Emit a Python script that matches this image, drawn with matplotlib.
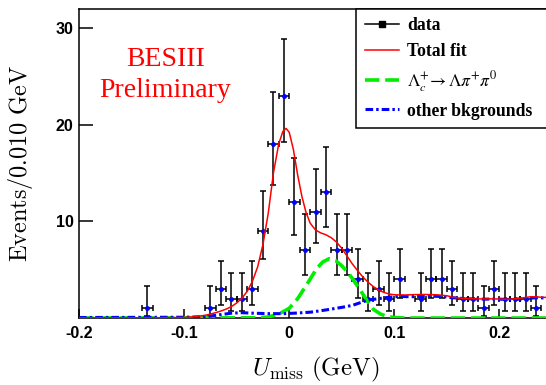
import matplotlib
matplotlib.use('Agg')
import matplotlib.pyplot as plt
from matplotlib.lines import Line2D

plt.rcParams['mathtext.fontset'] = 'cm'

# data points (bin width 0.010 GeV)
bin_centers = [-0.135, -0.075, -0.065, -0.055, -0.045, -0.035, -0.025, -0.015, -0.005, 0.005,
               0.015, 0.025, 0.035, 0.045, 0.055, 0.065, 0.075, 0.085, 0.095, 0.105,
               0.125, 0.135, 0.145, 0.155, 0.165, 0.175, 0.185, 0.195, 0.205, 0.215,
               0.225, 0.235]
counts = [1, 1, 3, 2, 2, 3, 9, 18, 23, 12, 7, 11, 13, 7, 7, 4, 2, 3, 2, 4,
          2, 4, 4, 3, 2, 2, 1, 3, 2, 2, 2, 1]
err_lo = [0.83, 0.83, 1.63, 1.29, 1.29, 1.63, 2.94, 4.20, 4.77, 3.42, 2.58, 3.27, 3.56, 2.58,
          2.58, 1.91, 1.29, 1.63, 1.29, 1.91, 1.29, 1.91, 1.91, 1.63, 1.29, 1.29, 0.83, 1.63,
          1.29, 1.29, 1.29, 0.83]
err_hi = [2.30, 2.30, 2.92, 2.64, 2.64, 2.92, 4.11, 5.32, 5.86, 4.56, 3.77, 4.42, 4.70, 3.77,
          3.77, 3.16, 2.64, 2.92, 2.64, 3.16, 2.64, 3.16, 3.16, 2.92, 2.64, 2.64, 2.30, 2.92,
          2.64, 2.64, 2.64, 2.30]

# total fit
fit_x = [-0.2, -0.15, -0.12, -0.1, -0.09, -0.08, -0.075, -0.07, -0.065, -0.06, -0.055, -0.05,
         -0.045, -0.04, -0.035, -0.03, -0.025, -0.02, -0.015, -0.01, -0.006, -0.003, 0.0,
         0.004, 0.008, 0.012, 0.016, 0.02, 0.025, 0.03, 0.035, 0.04, 0.045, 0.05, 0.055,
         0.06, 0.065, 0.07, 0.075, 0.08, 0.085, 0.09, 0.095, 0.1, 0.11, 0.12, 0.13, 0.14,
         0.15, 0.155, 0.16, 0.17, 0.18, 0.19, 0.2, 0.21, 0.22, 0.23, 0.24, 0.25]
fit_y = [0.02, 0.02, 0.03, 0.05, 0.13, 0.28, 0.4, 0.55, 0.72, 0.92, 1.18, 1.55,
         2.05, 2.75, 3.8, 5.3, 7.6, 10.8, 15.0, 18.0, 19.3, 19.6, 19.2,
         17.4, 14.8, 12.6, 10.9, 9.8, 9.1, 8.8, 8.6, 8.3, 7.85, 7.2, 6.4,
         5.6, 4.9, 4.25, 3.7, 3.25, 2.9, 2.65, 2.48, 2.4, 2.38, 2.42, 2.43, 2.4,
         2.3, 2.16, 2.08, 2.0, 1.97, 1.98, 1.96, 1.94, 2.05, 2.2, 2.15, 2.1]

# Lambda_c -> Lambda pi+ pi0 component
sig_x = [-0.2, -0.03, -0.02, -0.01, 0.0, 0.008, 0.017, 0.026, 0.032, 0.038, 0.044, 0.05,
         0.055, 0.06, 0.0675, 0.074, 0.08, 0.087, 0.093, 0.1, 0.11, 0.25]
sig_y = [0.0, 0.02, 0.1, 0.4, 1.0, 2.0, 3.5, 5.1, 5.8, 6.13, 5.95, 5.4,
         4.8, 4.1, 2.9, 1.8, 0.9, 0.4, 0.16, 0.05, 0.0, 0.0]

# other backgrounds
bkg_x = [-0.2, -0.1, -0.085, -0.075, -0.065, -0.055, -0.045, -0.035, -0.02, -0.005, 0.005,
         0.02, 0.03, 0.04, 0.05, 0.06, 0.068, 0.075, 0.085, 0.095, 0.105, 0.115, 0.125,
         0.135, 0.145, 0.155, 0.165, 0.175, 0.185, 0.195, 0.205, 0.215, 0.225, 0.235, 0.25]
bkg_y = [0.05, 0.08, 0.12, 0.2, 0.35, 0.5, 0.55, 0.5, 0.45, 0.45, 0.5,
         0.6, 0.75, 0.92, 1.1, 1.3, 1.6, 1.85, 2.0, 2.15, 2.23, 2.2, 2.22,
         2.25, 2.23, 2.1, 2.02, 1.97, 1.95, 1.96, 1.93, 1.93, 2.0, 2.1, 2.05]

fig = plt.figure(figsize=(5.46, 3.85), dpi=100)
ax = fig.add_axes([79 / 546, 1 - 318 / 385, 473 / 546, 309.5 / 385])

ax.errorbar(bin_centers, counts, yerr=[err_lo, err_hi], xerr=0.005, fmt='none',
            ecolor='black', elinewidth=1.1, capsize=2, capthick=1.1, zorder=2)
ax.plot(bin_centers, counts, 'o', color='blue', ms=2.5, zorder=3)

ax.plot(sig_x, sig_y, color='#00ee00', lw=2.6, dashes=(4, 1.6), zorder=4)
ax.plot(bkg_x, bkg_y, color='blue', lw=2.2, dashes=(2.5, 1, 0.8, 1), zorder=4)
ax.plot(fit_x, fit_y, color='red', lw=1.1, zorder=5)

ax.set_xlim(-0.2, 0.25)
ax.set_ylim(0, 32)
ax.set_xticks([-0.2, -0.1, 0, 0.1, 0.2])
ax.set_xticklabels(['-0.2', '-0.1', '0', '0.1', '0.2'])
ax.set_yticks([10, 20, 30])
ax.tick_params(axis='x', direction='in', length=6.5, width=1.1, pad=6)
ax.tick_params(axis='y', direction='in', length=10, width=1.1, pad=4)
for lab in ax.get_xticklabels() + ax.get_yticklabels():
    lab.set_fontfamily('Liberation Sans')
    lab.set_fontweight('bold')
    lab.set_fontsize(11.5)
for sp in ax.spines.values():
    sp.set_linewidth(1.1)

ax.set_xlabel(r'$U_{\rm miss}\ {\rm (GeV)}$', fontsize=18)
ax.set_ylabel(r'${\rm Events/0.010\ GeV}$', fontsize=17.5)
ax.xaxis.set_label_coords(0.5, -0.12)
ax.yaxis.set_label_coords(-0.092, 0.5)

ax.text(0.182, 0.835, 'BESIII', transform=ax.transAxes, color='red', fontsize=20,
        family='Liberation Serif', ha='center', va='center')
ax.text(0.182, 0.735, 'Preliminary', transform=ax.transAxes, color='red', fontsize=20,
        family='Liberation Serif', ha='center', va='center')

handles = [
    Line2D([], [], color='black', lw=1.1, marker='s', ms=4),
    Line2D([], [], color='red', lw=1.1),
    Line2D([], [], color='#00ee00', lw=2.6, dashes=(4, 1.6)),
    Line2D([], [], color='blue', lw=2.2, dashes=(2.5, 1, 0.8, 1)),
]
labels = ['data', 'Total fit', r'$\Lambda_{c}^{+}\!\rightarrow\Lambda\pi^{+}\pi^{0}$',
          'other bkgrounds']
x0 = (356 - 79) / 473
leg = ax.legend(handles, labels, loc='upper left', bbox_to_anchor=(x0, 0, 1.05 - x0, 1.0),
                mode='expand', borderaxespad=0, fancybox=False, framealpha=1,
                edgecolor='black', handlelength=1.95, handletextpad=0.45,
                labelspacing=0.5, borderpad=0.5,
                prop={'family': 'Liberation Serif', 'weight': 'bold', 'size': 12.7})
leg.get_frame().set_linewidth(1.1)
for t in leg.get_texts():
    t.set_math_fontfamily('stix')

fig.savefig('out.png', dpi=100)
